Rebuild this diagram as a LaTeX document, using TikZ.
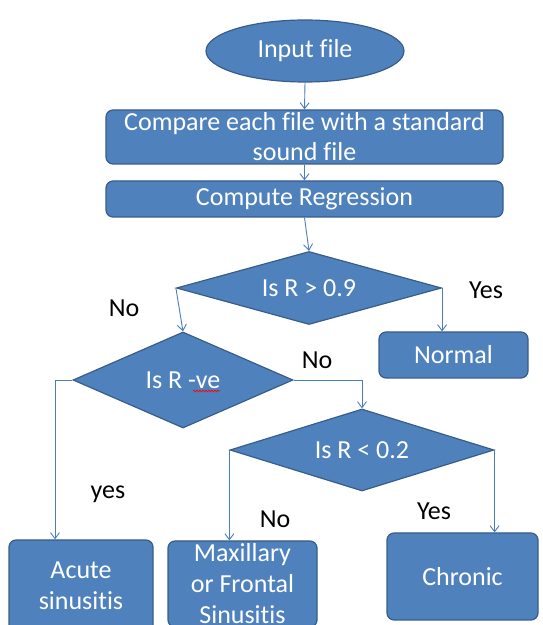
\documentclass[tikz,border=0pt]{standalone}
\usepackage{fontspec}
\setmainfont{Carlito}[Ligatures=NoCommon]
\usetikzlibrary{shapes.geometric,arrows.meta,decorations.pathmorphing}
\definecolor{boxfill}{HTML}{4F81BD}
\definecolor{boxline}{HTML}{385D8A}
\definecolor{linkblue}{HTML}{4A7EBB}
\begin{document}
\begin{tikzpicture}[x=1pt,y=1pt,
  every node/.style={font=\fontsize{26}{31}\selectfont},
  shp/.style={fill=boxfill,draw=boxline,line width=1.2pt,text=white,inner sep=0pt},
  rbox/.style={shp,rectangle,rounded corners=7pt,align=center},
  dec/.style={shp,diamond},
  lbl/.style={text=black,inner sep=0pt},
  link/.style={draw=linkblue,line width=0.9pt,-{Straight Barb[length=6pt,width=9pt]}}
]
\useasboundingbox (0,0) rectangle (542,625);
\clip (0,0) rectangle (542,625);

\node[shp,ellipse,minimum width=198pt,minimum height=62pt] (in) at (305,574) {Input file};
\node[rbox,minimum width=397pt,minimum height=54pt,font=\fontsize{26}{30}\selectfont] (cmp) at (304.5,488) {Compare each file with a standard\\sound file};
\node[rbox,minimum width=397pt,minimum height=36pt] (reg) at (304.5,426) {Compute Regression};

\node[dec,shape aspect=3.6,minimum width=265pt,minimum height=73pt] (d1) at (309,337) {Is R > 0.9};
\node[dec,shape aspect=2.3,minimum width=220pt,minimum height=96pt] (d2) at (183,245) {Is R -ve};
\node[dec,shape aspect=3.2,minimum width=264pt,minimum height=82pt] (d3) at (362,175) {Is R < 0.2};

\draw[red,line width=0.6pt,decorate,decoration={snake,amplitude=1pt,segment length=3pt}]
  ([xshift=10pt,yshift=-11pt]d2.center) -- ([xshift=37pt,yshift=-11pt]d2.center);

\node[rbox,minimum width=149pt,minimum height=46pt] (norm) at (453.5,270) {Normal};
\node[rbox,minimum width=144pt,minimum height=92pt] (acute) at (81,39) {Acute\\sinusitis};
\node[rbox,minimum width=149pt,minimum height=86pt] (maxi) at (242.5,41) {Maxillary\\or Frontal\\Sinusitis};
\node[rbox,minimum width=151pt,minimum height=87pt] (chron) at (462.5,48.5) {Chronic};

\node[lbl] (yes1) at (486,335) {Yes};
\node[lbl] (no1) at (124,317) {No};
\node[lbl] (no2) at (317,265) {No};
\node[lbl] (yes2) at (108,131) {yes};
\node[lbl] (no3) at (275,106) {No};
\node[lbl] (yes3) at (434,114) {Yes};

\draw[link] (in.south) -- (cmp.north);
\draw[link] (cmp.south) -- (reg.north);
\draw[link] (reg.south) -- (d1.north);
\draw[link] (d1.west) -- (d2.north);
\draw[link] (d1.east) -- (d1.east |- norm.north);
\draw[link] (d2.east) -| (d3.north);
\draw[link] (d2.west) -| ([xshift=-26pt]acute.north);
\draw[link] (d3.west) -- (d3.west |- maxi.north);
\draw[link] (d3.east) -- (d3.east |- chron.north);
\end{tikzpicture}
\end{document}
